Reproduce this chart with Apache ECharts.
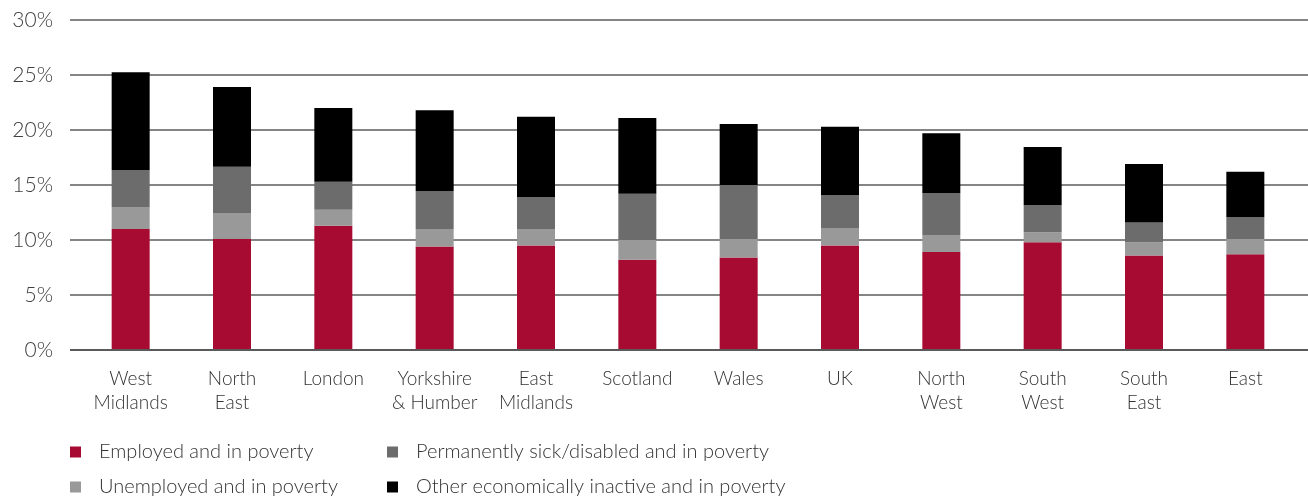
<!DOCTYPE html>
<html>
<head>
<meta charset="utf-8">
<script src="https://cdn.jsdelivr.net/npm/echarts@6/dist/echarts.min.js"></script>
<style>
  html, body { margin: 0; padding: 0; background: #fff; }
  #chart { width: 1308px; height: 497px; }
</style>
</head>
<body>
<div id="chart"></div>
<script>
var regions = ["West\nMidlands", "North\nEast", "London", "Yorkshire\n& Humber", "East\nMidlands",
  "Scotland", "Wales", "UK", "North\nWest", "South\nWest", "South\nEast", "East"];
var employed = [11.0, 10.1, 11.3, 9.4, 9.5, 8.2, 8.4, 9.5, 8.9, 9.8, 8.6, 8.7];
var unemployed = [2.0, 2.35, 1.45, 1.6, 1.5, 1.8, 1.7, 1.6, 1.55, 0.9, 1.2, 1.4];
var sick = [3.35, 4.2, 2.55, 3.45, 2.9, 4.2, 4.9, 3.0, 3.8, 2.45, 1.8, 2.0];
var other = [8.9, 7.25, 6.7, 7.35, 7.3, 6.9, 5.55, 6.2, 5.45, 5.3, 5.3, 4.1];
var seriesNames = ["Employed and in poverty", "Unemployed and in poverty",
  "Permanently sick/disabled and in poverty", "Other economically inactive and in poverty"];
var colors = ["#a80b31", "#999999", "#6c6c6c", "#000000"];

var font = "Lato";
var chart = echarts.init(document.getElementById("chart"));

function bar(i, data) {
  return {
    name: seriesNames[i],
    type: "bar",
    stack: "total",
    xAxisIndex: 1,
    yAxisIndex: 1,
    barWidth: 38,
    itemStyle: { color: colors[i] },
    data: data
  };
}

var legendText = {
  fontFamily: font,
  fontWeight: 300,
  fontSize: 20,
  color: "#333",
  lineHeight: 20,
  padding: [0, 0, 0, 13]
};

function legend(left, names) {
  return {
    orient: "vertical",
    left: left,
    top: 437,
    height: 100,
    itemWidth: 11,
    itemHeight: 11,
    itemGap: 15,
    icon: "rect",
    data: names,
    textStyle: legendText
  };
}

chart.setOption({
  animation: false,
  color: colors,
  grid: [
    // 网格线用的
    { left: 70, right: 0, top: 20, bottom: 147 },
    // 柱子用的
    { left: 80, right: 12, top: 20, bottom: 147 }
  ],
  xAxis: [
    { gridIndex: 0, type: "value", show: false, min: 0, max: 1 },
    {
      gridIndex: 1,
      type: "category",
      data: regions,
      axisLine: { show: false },
      axisTick: { show: false },
      axisLabel: {
        fontFamily: font,
        fontWeight: 300,
        fontSize: 19,
        lineHeight: 24,
        color: "#333",
        margin: 17,
        interval: 0
      }
    }
  ],
  yAxis: [
    {
      gridIndex: 0,
      type: "value",
      min: 0,
      max: 30,
      interval: 5,
      axisLine: { show: false },
      axisTick: { show: false },
      splitLine: { lineStyle: { color: "#858585", width: 2 } },
      axisLabel: {
        formatter: "{value}%",
        fontFamily: font,
        fontWeight: 300,
        fontSize: 21,
        color: "#404040",
        margin: 17
      }
    },
    {
      gridIndex: 1,
      type: "value",
      min: 0,
      max: 30,
      interval: 5,
      show: false,
      splitLine: { show: false }
    }
  ],
  legend: [
    legend(65, [seriesNames[0], seriesNames[1]]),
    legend(382, [seriesNames[2], seriesNames[3]])
  ],
  series: [
    bar(0, employed),
    bar(1, unemployed),
    bar(2, sick),
    bar(3, other),
    {
      // 0% 处的深色轴线
      type: "line",
      xAxisIndex: 0,
      yAxisIndex: 0,
      silent: true,
      data: [],
      markLine: {
        symbol: "none",
        silent: true,
        label: { show: false },
        lineStyle: { color: "#5a5a5a", width: 2, type: "solid" },
        data: [{ yAxis: 0 }]
      },
      z: 1
    }
  ]
});
</script>
</body>
</html>
